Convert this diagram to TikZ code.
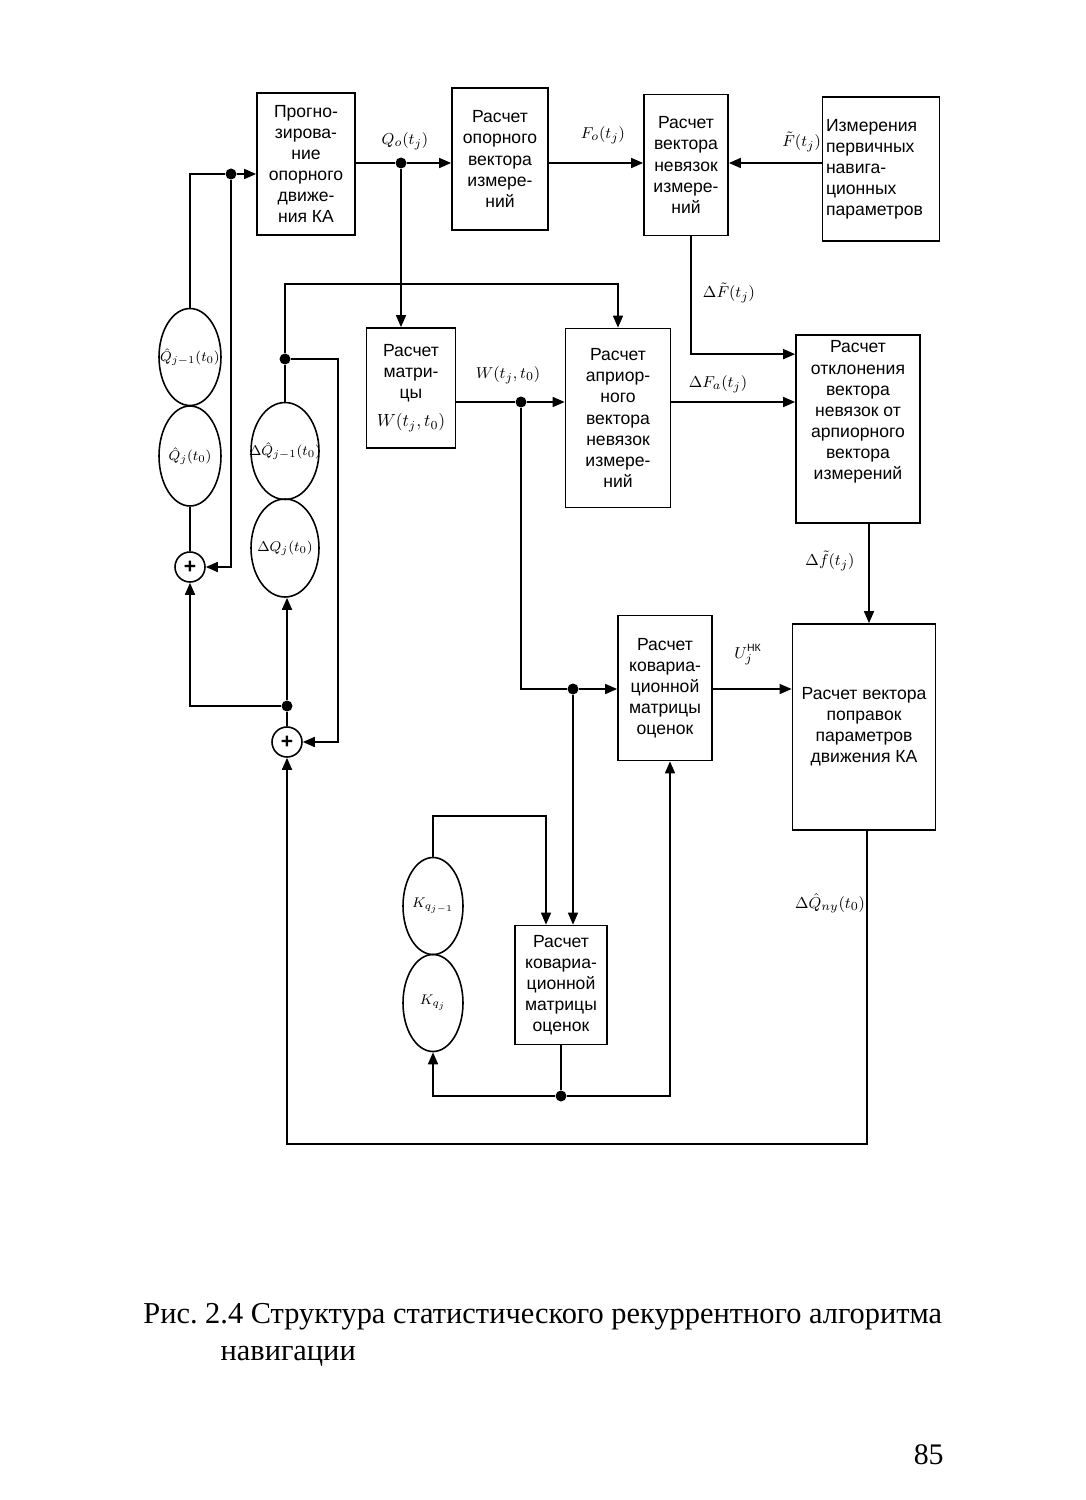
\documentclass[tikz,border=0pt]{standalone}
\usepackage{fontspec}
\setmainfont{Liberation Sans}
\newfontfamily\capfont{Liberation Serif}
\usetikzlibrary{positioning,arrows.meta,shapes.geometric,calc}
\frenchspacing

\begin{document}
\begin{tikzpicture}[x=0.02cm,y=-0.02cm,font=\fontsize{10}{12}\selectfont,
  calcbox/.style={draw,line width=1pt,align=center,inner sep=2pt},
  memcell/.style={draw,ellipse,line width=0.9pt,inner sep=0pt,font=\fontsize{8.5}{9}\selectfont},
  summer/.style={draw,circle,line width=0.9pt,minimum size=0.6cm,inner sep=0pt,font=\bfseries\fontsize{12}{12}\selectfont},
  jn/.style={circle,fill,inner sep=0pt,minimum size=2.2mm},
  ar/.style={-{Triangle[length=2.4mm,width=2mm]},line width=0.9pt},
  ln/.style={line width=0.9pt},
  sig/.style={inner sep=1pt,font=\fontsize{9.5}{10}\selectfont}]

\useasboundingbox (0,0) rectangle (1085,1500);

% blocks
\node[calcbox,minimum width=1.96cm,minimum height=2.84cm] (prog) at (306,164) {Прогно-\\зирова-\\ние\\опорного\\движе-\\ния КА};
\node[calcbox,minimum width=1.92cm,minimum height=2.84cm] (opor) at (500,159) {Расчет\\опорного\\вектора\\измере-\\ний};
\node[calcbox,minimum width=1.68cm,minimum height=2.82cm] (nevz) at (686,165) {Расчет\\вектора\\невязок\\измере-\\ний};
\node[calcbox,align=left,text width=2.2cm,minimum width=2.34cm,minimum height=2.88cm] (izm) at (881,169) {Измерения\\первичных\\навига-\\ционных\\параметров};
\node[calcbox,minimum width=1.78cm,minimum height=2.4cm] (matr) at (411,388) {Расчет\\матри-\\цы\\[4pt]$W(t_j,t_0)$};
\node[calcbox,minimum width=2.1cm,minimum height=3.58cm] (apr) at (618,418) {Расчет\\априор-\\ного\\вектора\\невязок\\измере-\\ний};
\node[calcbox,minimum width=2.48cm,minimum height=3.76cm] (otkl) at (858,429) {};
\node[align=center] (otkltxt) at ($(otkl)+(0,-17)$) {Расчет\\отклонения\\вектора\\невязок от\\арпиорного\\вектора\\измерений};
\node[calcbox,minimum width=1.88cm,minimum height=2.9cm] (kov1) at (665,688) {Расчет\\ковариа-\\ционной\\матрицы\\оценок};
\node[calcbox,minimum width=2.86cm,minimum height=4.12cm] (popr) at (864,727) {Расчет вектора\\поправок\\параметров\\движения КА};
\node[calcbox,minimum width=1.84cm,minimum height=2.38cm] (kov2) at (561,985) {Расчет\\ковариа-\\ционной\\матрицы\\оценок};

% stored estimates
\node[memcell,minimum width=1.24cm,minimum height=1.94cm] (qh1) at (190,357) {\makebox[0pt]{$\hat Q_{j-1}(t_0)$}};
\node[memcell,minimum width=1.24cm,minimum height=2cm] (qh2) at (190,456) {\makebox[0pt]{$\hat Q_j(t_0)$}};
\node[memcell,minimum width=1.36cm,minimum height=1.94cm] (dq1) at (285,451) {\makebox[0pt]{$\Delta\hat Q_{j-1}(t_0)$}};
\node[memcell,minimum width=1.36cm,minimum height=1.96cm] (dq2) at (285,548) {\makebox[0pt]{$\Delta Q_j(t_0)$}};
\node[memcell,minimum width=1.2cm,minimum height=1.94cm] (kq1) at (433,906) {\makebox[0pt]{$K_{q_{j-1}}$}};
\node[memcell,minimum width=1.2cm,minimum height=1.94cm] (kq2) at (433,1003) {\makebox[0pt]{$K_{q_j}$}};

\node[summer] (sum1) at (190,567) {+};
\node[summer] (sum2) at (287,742) {+};

% junctions
\node[jn] (qdot) at (401,163) {};
\node[jn] (ldot) at (231,174) {};
\node[jn] (rdot) at (285,359) {};
\node[jn] (bdot) at (287,706) {};
\node[jn] (wdot) at (521,402) {};
\node[jn] (kdot) at (573,689) {};
\node[jn] (mdot) at (561,1096) {};

% signal names
\node[sig] (lq) at (405,141) {$Q_o(t_j)$};
\node[sig] (lf) at (603,135) {$F_o(t_j)$};
\node[sig,anchor=east] (lft) at (823,142) {$\tilde F(t_j)$};
\node[sig] (ldft) at (729,293) {$\Delta\tilde F(t_j)$};
\node[sig] (lw) at (508,375) {$W(t_j,t_0)$};
\node[sig] (ldfa) at (718,384) {$\Delta F_a(t_j)$};
\node[sig] (ldf) at (830,561) {$\Delta\tilde f(t_j)$};
\node[sig] (lu) at (748,655) {$U_j^{\mbox{\fontsize{6}{6}\selectfont НК}}$};
\node[sig] (ldq) at (830,903) {$\Delta\hat Q_{ny}(t_0)$};

% top row
\draw[ln] (prog.east |- qdot) -- (qdot);
\draw[ar] (qdot) -- (qdot -| opor.west);
\draw[ar] (qdot) -- (qdot |- matr.north);
\draw[ar] (qdot -| opor.east) -- (qdot -| nevz.west);
\draw[ar] (qdot -| izm.west) -- (qdot -| nevz.east);

% left loop
\draw[ln] (qh1.north) |- (ldot);
\draw[ar] (ldot) -- (ldot -| prog.west);
\draw[ar] (ldot) |- (sum1.east);
\draw[ln] (sum1.north) -- (qh2.south);
\draw[ar] (bdot) -| (sum1.south);
\draw[ar] (bdot) -- (bdot |- dq2.south);
\draw[ln] (bdot) -- (sum2.north);
\draw[ln] (dq1.north) -- (rdot);
\draw[ar] (rdot) -- ++(53,0) |- (sum2.east);
\draw[ar] (rdot) -- ++(0,-75) -| (apr.north);

% middle
\draw[ln] (wdot -| matr.east) -- (wdot);
\draw[ar] (wdot) -- (wdot -| apr.west);
\draw[ln] (wdot) |- (kdot);
\draw[ar] (kdot) -- (kdot -| kov1.west);
\draw[ar] (kdot) -- (kdot |- kov2.north);
\draw[ar] (wdot -| apr.east) -- (wdot -| otkl.west);
\draw[ar] ($(nevz.south)+(5,0)$) |- ($(otkl.north west)+(0,20)$);
\draw[ar] ($(otkl.south)+(11,0)$) -- ($(popr.north)+(5,0)$);
\draw[ar] (kdot -| kov1.east) -- (kdot -| popr.west);

% feedback
\draw[ar] ($(popr.south)+(3,0)$) -- ++(0,313) -| (sum2.south);
\draw[ln] (kov2.south) -- (mdot);
\draw[ar] (mdot) -| (kq2.south);
\draw[ar] (mdot) -| ($(kov1.south)+(5,0)$);
\draw[ar] (kq1.north) -- ++(0,-41) -| ($(kov2.north)+(-15,0)$);

% caption
\node[anchor=north west,align=left,inner sep=0pt,font=\capfont\fontsize{17.3}{21}\selectfont] (cap) at (143,1303) {Рис. 2.4 Структура статистического рекуррентного алгоритма\\\hspace*{44pt}навигации};
\node[anchor=east,inner sep=0pt,font=\capfont\fontsize{17}{17}\selectfont] (pg) at (944,1455) {85};
\end{tikzpicture}
\end{document}
